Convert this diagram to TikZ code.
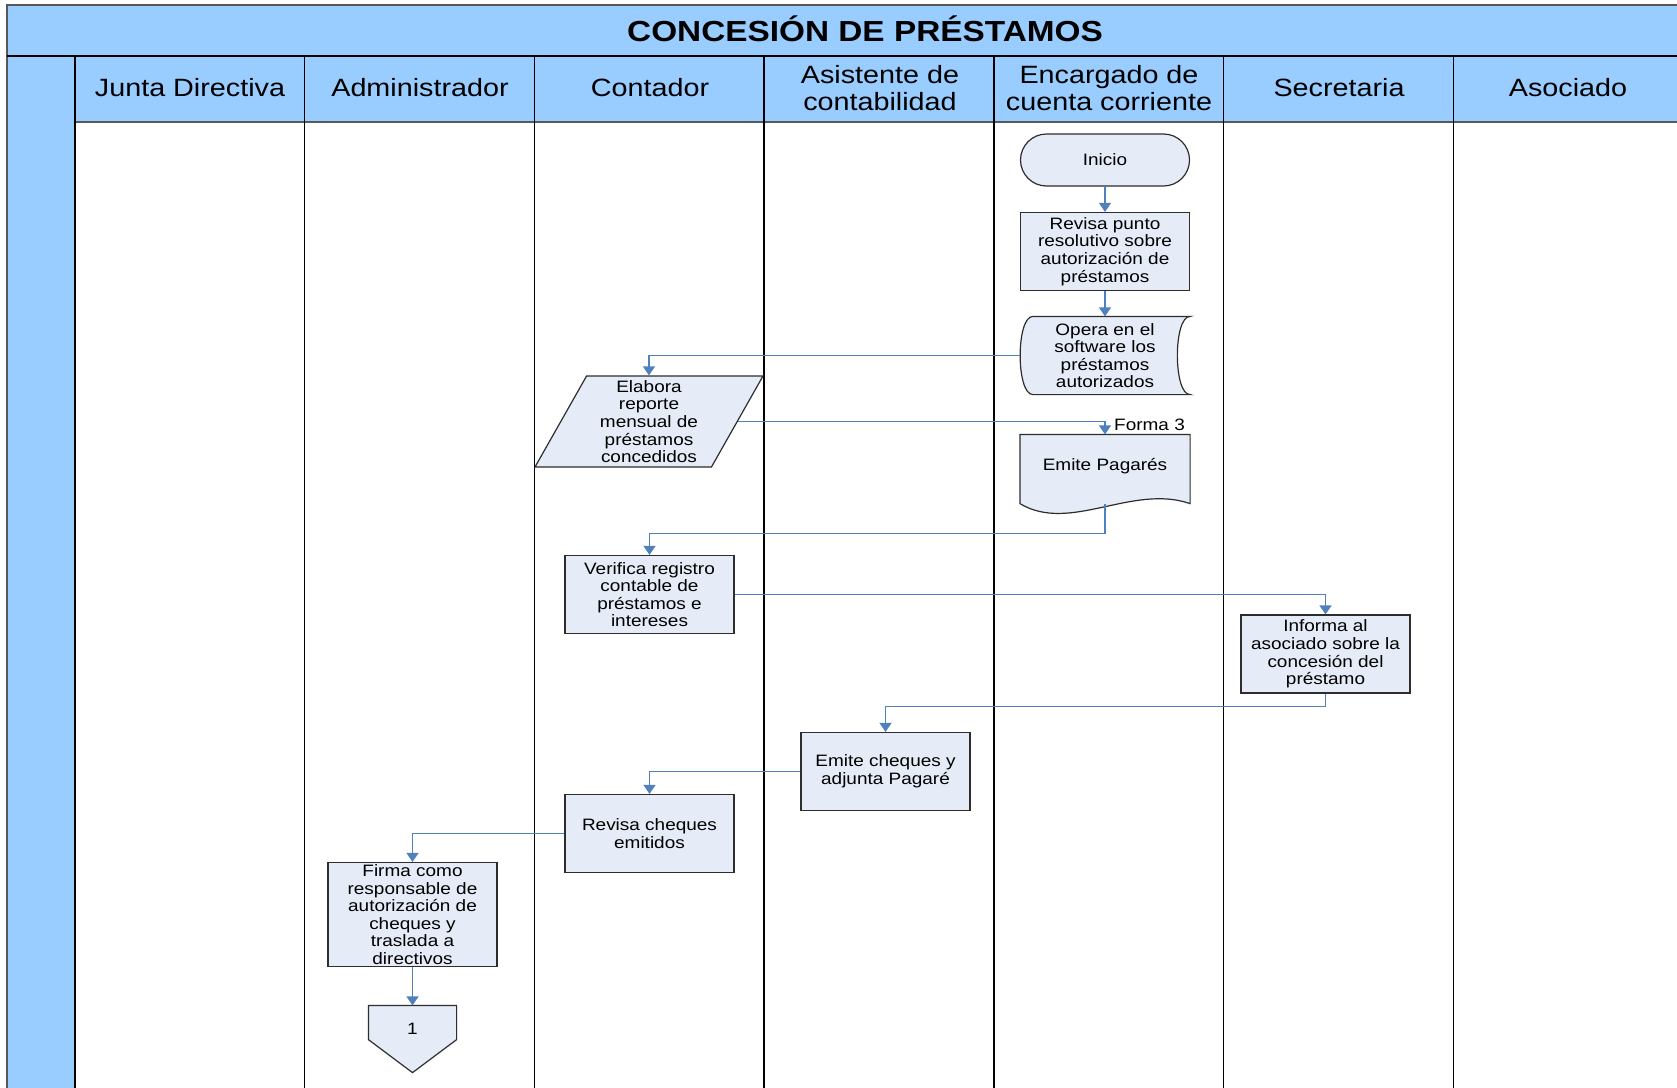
\documentclass[tikz,border=0pt]{standalone}
\usepackage{fontspec}
\setmainfont[FakeStretch=1.15]{Liberation Sans}
\usepackage{tikz}
\usetikzlibrary{arrows.meta,shapes.geometric,backgrounds}
\usepackage{xcolor}
\definecolor{carril}{RGB}{153,204,255}
\definecolor{cajafondo}{RGB}{230,236,247}
\definecolor{cajaborde}{RGB}{45,45,45}
\definecolor{flecha}{RGB}{79,129,189}

\begin{document}
\begin{tikzpicture}[x=1pt, y=-1pt,
  caja/.style={draw=cajaborde, fill=cajafondo, line width=1.2pt, minimum width=169pt,
    minimum height=78pt, align=center, inner sep=1pt, font=\fontsize{16.5}{17.6}\selectfont},
  sinborde/.style={caja, draw=none, fill=none},
  forma/.style={draw=cajaborde, fill=cajafondo, line width=1.2pt},
  flujo/.style={draw=flecha, line width=1.3pt, -{Triangle[width=12pt,length=9pt]}},
  cabecera/.style={align=center, font=\fontsize{25}{27}\selectfont},
  divisor/.style={line width=1.4pt, black}]
  \useasboundingbox (0,0) rectangle (1677,1087);
  \begin{scope}[on background layer]
    \fill[white] (0,0) rectangle (1677,1087);
  \end{scope}
  % Title bar and lanes
  \fill[carril] (7,4) rectangle (1690,56);
  \fill[carril] (75,56) rectangle (1690,122);
  \fill[carril] (7,56) rectangle (75,1095);
  \draw[line width=2pt, cajaborde!80] (7,4.5) -- (1690,4.5);
  \draw[line width=2pt, cajaborde!80] (7,4) -- (7,1095);
  \draw[line width=2.8pt, black] (7,56) -- (1690,56);
  \draw[line width=2.4pt, black!65] (75,122) -- (1690,122);
  \foreach \xl in {75,304.7,534.4,764.1,993.8,1223.5,1453.2}
    \draw[divisor] (\xl,56) -- (\xl,1095);
  \node[font=\bfseries\fontsize{29}{32}\selectfont] (titulo) at (865,29) {CONCESIÓN DE PRÉSTAMOS};
  \foreach \xc/\nombre [count=\i] in {190/{Junta Directiva}, 420/{Administrador}, 650/{Contador},
      880/{Asistente de\\contabilidad}, 1109/{Encargado de\\cuenta corriente}, 1339/{Secretaria}, 1568/{Asociado}}
    \node[cabecera] (carril\i) at (\xc,88) {\nombre};

  % Steps
  \node[caja, rounded corners=26pt, minimum height=52pt] (inicio) at (1105,160) {Inicio};
  \node[caja] (revisa) at (1105,251.5) {Revisa punto\\resolutivo sobre\\autorización de\\préstamos};
  \node[sinborde, minimum height=77pt] (opera) at (1105,355.5) {Opera en el\\software los\\préstamos\\autorizados};
  \node[caja, trapezium, trapezium left angle=58, trapezium right angle=122, trapezium stretches body,
    minimum width=228pt, minimum height=91pt, inner sep=0pt] (elabora) at (649,421.5)
    {Elabora\\reporte\\mensual de\\préstamos\\concedidos};
  \node[sinborde, minimum height=68pt] (pagares) at (1105,469) {\raisebox{9pt}{Emite Pagarés}};
  \node[anchor=west, inner sep=0pt, font=\fontsize{16.5}{17.6}\selectfont] (forma3)
    at ([xshift=9pt,yshift=10pt]pagares.north) {Forma 3};
  \node[caja] (verifica) at (649.5,594.5) {Verifica registro\\contable de\\préstamos e\\intereses};
  \node[caja] (informa) at (1325.5,654) {Informa al\\asociado sobre la\\concesión del\\préstamo};
  \node[caja] (cheques) at (885.5,771.5) {Emite cheques y\\adjunta Pagaré};
  \node[caja] (revisach) at (649.5,833.5) {Revisa cheques\\emitidos};
  \node[caja, minimum height=104pt, inner sep=0pt] (firma) at (412.5,914.5)
    {Firma como\\responsable de\\autorización de\\cheques y\\traslada a\\directivos};
  \node[sinborde, minimum width=87pt, minimum height=46pt] (conector) at (412.5,1029) {1};

  % Outlines of the special shapes
  \begin{scope}[on background layer]
    \draw[forma] ([xshift=13pt]opera.north west) -- (opera.north east)
      .. controls +(-17pt,0pt) and +(-17pt,0pt) .. (opera.south east)
      -- ([xshift=13pt]opera.south west)
      .. controls +(-17pt,0pt) and +(-17pt,0pt) .. ([xshift=13pt]opera.north west) -- cycle;
    \draw[forma] (pagares.north west) -- (pagares.north east) -- (pagares.south east)
      .. controls +(-58pt,20pt) and +(50pt,-30pt) .. (pagares.south west) -- cycle;
    \draw[forma] (conector.north west) -- (conector.north east) -- ([yshift=13pt]conector.south east)
      -- ([yshift=-20pt]conector.south) -- ([yshift=13pt]conector.south west) -- cycle;
  \end{scope}

  % Flow
  \draw[flujo] (inicio) -- (revisa);
  \draw[flujo] (revisa) -- (opera);
  \draw[flujo] (opera.west) -| (elabora);
  \draw[flujo] (elabora) -| (pagares);
  \draw[flujo] (pagares.south) -- ++(0,30) -| (verifica);
  \draw[flujo] (verifica) -| (informa);
  \draw[flujo] (informa.south) -- ++(0,13) -| (cheques);
  \draw[flujo] (cheques) -| (revisach);
  \draw[flujo] (revisach) -| (firma);
  \draw[flujo] (firma) -- (conector);
\end{tikzpicture}
\end{document}
